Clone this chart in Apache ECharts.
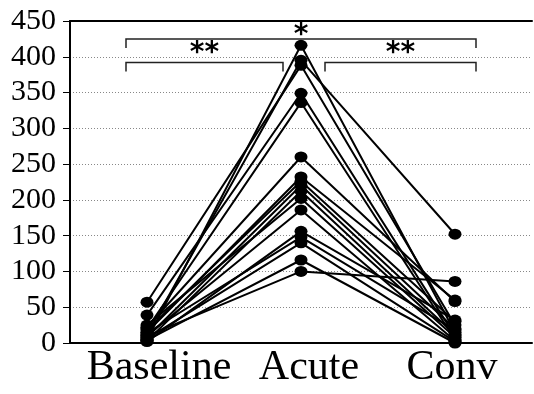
<!DOCTYPE html>
<html>
<head>
<meta charset="utf-8">
<script src="https://cdn.jsdelivr.net/npm/echarts@6/dist/echarts.min.js"></script>
<style>html,body{margin:0;padding:0;background:#fff;}#c{width:534px;height:394px;}</style>
</head>
<body>
<div id="c"></div>
<script>
// Data
var categories = ['Baseline', 'Acute', 'Conv'];
var baseline = [5, 12, 57, 39, 20, 22, 15, 18, 8, 3, 25, 10, 2, 14, 6, 4, 10];
var acute    = [416, 395, 388, 349, 336, 260, 232, 226, 220, 212, 202, 186, 156, 148, 140, 116, 100];
var conv     = [15, 152, 25, 10, 5, 58, 60, 30, 20, 12, 8, 3, 32, 18, 2, 0, 86];
var yTicks = [0, 50, 100, 150, 200, 250, 300, 350, 400, 450];
// brackets: [fromCategoryIndex, toCategoryIndex, yValue, label, labelYValue, startInsetPx, endInsetPx]
var brackets = [
  [0, 2, 425, '*', 435, -21, 21],
  [0, 1, 392, '**', 410, -21, -18],
  [1, 2, 392, '**', 410, 24, 21]
];

var series = [];
for (var i = 0; i < acute.length; i++) {
  series.push({
    type: 'line',
    data: [baseline[i], acute[i], conv[i]],
    symbol: 'circle',
    symbolSize: [13, 11],
    itemStyle: { color: '#000' },
    lineStyle: { color: '#000', width: 2 },
    silent: true,
    animation: false
  });
}
series.push({
  type: 'custom',
  data: brackets,
  silent: true,
  animation: false,
  z: 5,
  renderItem: function (params, api) {
    var b = brackets[params.dataIndex];
    var p1 = api.coord([b[0], b[2]]);
    var p2 = api.coord([b[1], b[2]]);
    var x1 = p1[0] + b[5], x2 = p2[0] + b[6], y = p1[1];
    var lab = api.coord([(b[0] + b[1]) / 2, b[4]]);
    var labX = (x1 + x2) / 2;
    return {
      type: 'group',
      children: [
        { type: 'polyline', shape: { points: [[x1, y + 9], [x1, y], [x2, y], [x2, y + 9]] },
          style: { stroke: '#222', lineWidth: 1.5, fill: null } },
        { type: 'text', style: { text: b[3], x: labX, y: lab[1] + 4, align: 'center', verticalAlign: 'middle',
          font: 'bold 28px "DejaVu Sans", sans-serif', fill: '#000' } }
      ]
    };
  }
});

var chart = echarts.init(document.getElementById('c'), null, { renderer: 'canvas' });
chart.setOption({
  animation: false,
  backgroundColor: '#fff',
  grid: { left: 70, right: 2, top: 21, bottom: 51, containLabel: false },
  xAxis: [{
    type: 'category',
    data: categories,
    boundaryGap: true,
    axisLine: { lineStyle: { color: '#000', width: 2 } },
    axisTick: { show: false },
    axisLabel: {
      interval: 0,
      hideOverlap: false,
      margin: 4,
      color: '#000',
      fontFamily: 'Liberation Serif',
      fontSize: 42,
      formatter: function (v) {
        if (v === 'Baseline') return '{a|' + v + '}';
        if (v === 'Acute') return '{b|' + v + '}';
        return '{c|' + v + '}';
      },
      rich: {
        a: { fontFamily: 'Liberation Serif', fontSize: 42, color: '#000', padding: [0, 0, 0, 24] },
        b: { fontFamily: 'Liberation Serif', fontSize: 42, color: '#000', padding: [0, 0, 0, 16] },
        c: { fontFamily: 'Liberation Serif', fontSize: 42, color: '#000', padding: [0, 6, 0, 0] }
      }
    },
    splitLine: { show: false }
  }, {
    type: 'category',
    data: categories,
    position: 'top',
    axisLine: { lineStyle: { color: '#000', width: 2 } },
    axisTick: { show: false },
    axisLabel: { show: false }
  }],
  yAxis: {
    type: 'value',
    min: yTicks[0],
    max: yTicks[yTicks.length - 1],
    interval: 50,
    axisLine: { show: true, lineStyle: { color: '#000', width: 2 } },
    axisTick: { show: true, length: 7, lineStyle: { color: '#000', width: 1 } },
    axisLabel: { margin: 14, color: '#000', fontFamily: 'Liberation Serif', fontSize: 30 },
    splitLine: { show: true, lineStyle: { color: '#888', type: [1, 2], width: 1 } }
  },
  series: series
});
</script>
</body>
</html>
